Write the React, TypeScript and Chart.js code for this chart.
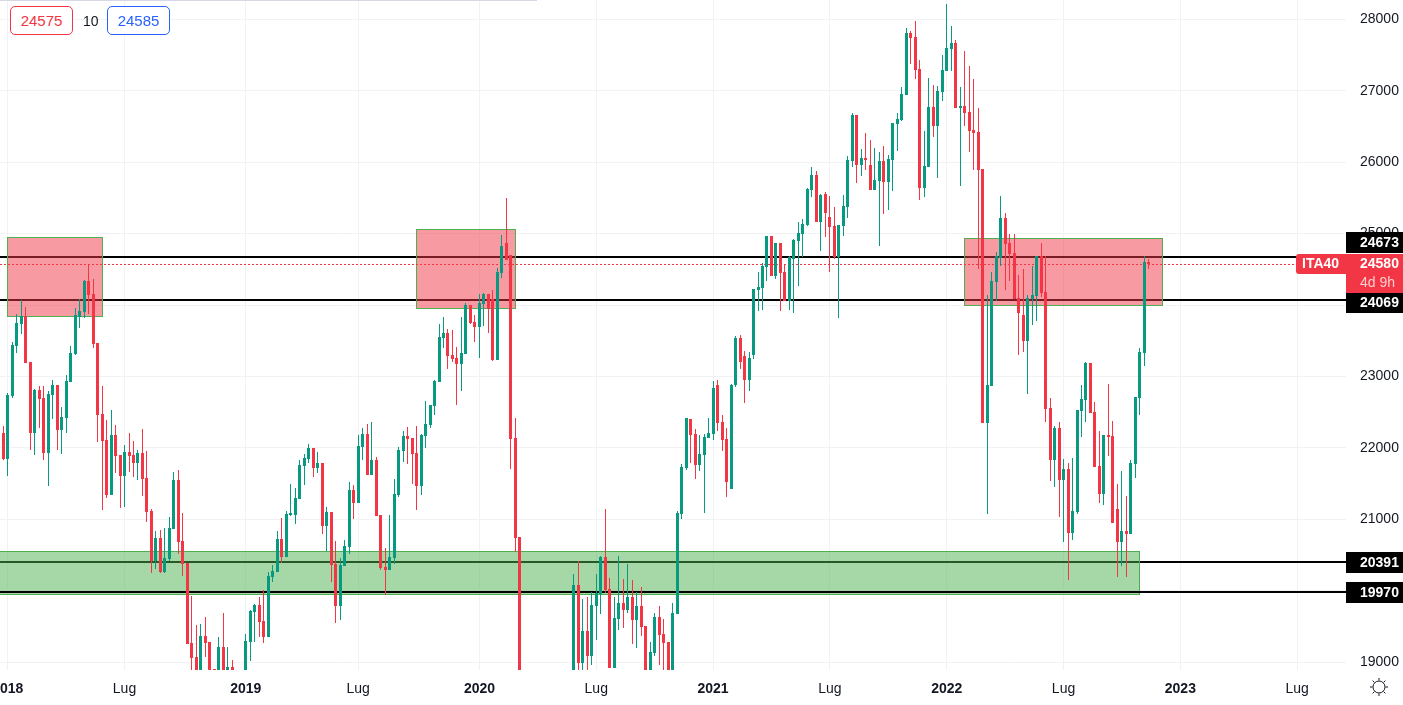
import React, { useEffect, useRef } from 'react';
import Chart from 'chart.js/auto';

// weekly candles, index 0 is the last week of Dec 2017
const opens = [
  22208,21844,22726,23426,23734,23841,23202,22208,22810,22698,
  21928,22740,22880,22250,22418,22922,23314,23832,23902,24336,
  24154,23468,22474,22110,21340,22180,21900,21606,21942,21900,
  21788,21928,21578,21116,20416,20738,20262,20444,20864,21550,
  20696,20388,19268,19072,18800,19366,19282,18900,18800,19212,
  18850,18932,18800,18600,18800,19282,19702,19800,19576,19352,
  20192,20262,20724,20472,21060,21060,21284,21746,21844,21998,
  21718,21788,20906,21102,20374,19786,20346,20612,21410,21228,
  22012,22194,21620,21830,21060,20332,20290,20458,21340,21956,
  22166,22138,21928,21466,22166,22320,22586,22922,23538,23608,
  23300,23258,23174,23314,24000,23762,23692,24014,24154,24084,
  23230,24448,24868,24700,22138,20752,18400,16000,15800,16600,
  16300,17200,17200,17000,17050,17400,17000,18800,20080,18988,
  19436,19086,19786,19954,20472,20024,18918,19604,19828,19730,
  19912,19590,19786,19506,18850,19128,19632,19394,19282,18850,
  19674,21074,21718,22404,22194,21760,21900,22138,22194,22880,
  22362,22124,21424,22880,23540,23280,22950,23300,24210,24238,
  24532,24966,24406,24868,24462,24056,24644,24896,24994,25120,
  25610,25820,25162,25554,25232,25106,24672,25106,25372,26016,
  26660,25960,26058,25960,25610,25736,26016,25722,26030,26534,
  26590,26940,27808,27752,27304,25638,25932,26772,26506,26982,
  27276,27584,27668,26758,26786,26702,26450,26422,25904,22348,
  22866,24322,24658,25218,24868,24728,24098,23860,23496,24084,
  24126,24686,24182,22558,21830,22278,21550,21704,20808,21102,
  22516,22670,23188,22502,21746,21354,22180,22166,21144,20682,
  20836,20794,21774,22698,23328,24602,
];
const closes = [
  21844,22740,23440,23748,23841,23188,22208,22810,22684,21928,
  22754,22880,22250,22432,22936,23328,23860,23916,24336,24140,
  23454,22460,22096,21340,22180,21886,21606,21942,21886,21788,
  21928,21564,21102,20416,20738,20262,20458,20878,21550,20682,
  20374,19254,19058,18800,19366,19268,18800,18800,19212,18800,
  18932,18800,18650,18800,19296,19716,19800,19562,19352,20206,
  20276,20724,20472,21074,21074,21298,21760,21858,21998,21718,
  21788,20906,21102,20360,19786,20360,20626,21410,21228,22026,
  22194,21620,21830,21046,20318,20290,20472,21354,21970,22166,
  22124,21914,21466,22180,22334,22600,22936,23552,23608,23286,
  23244,23174,23328,24000,23748,23692,24028,24154,23944,23230,
  24462,24826,24630,22124,20738,18400,16000,15800,16600,16300,
  17200,17150,17000,17050,17400,17000,18200,20080,18988,19436,
  19086,19800,19968,20472,20010,18918,19618,19828,19730,19912,
  19590,19786,19492,18850,19142,19632,19380,19268,18850,19688,
  21088,21732,22418,22180,21760,21914,22152,22208,22840,22350,
  22110,21522,22880,23540,23200,22950,23260,24224,24252,24546,
  24966,24406,24868,24448,24056,24672,24910,25008,25134,25624,
  25820,25162,25540,25288,25092,24672,25120,25386,26030,26660,
  25960,26058,26030,25610,25750,26016,25722,26044,26548,26604,
  26954,27808,27738,27290,25638,25946,26772,26506,26996,27290,
  27598,27668,26758,26786,26688,26436,26408,25890,22348,22880,
  24336,24686,25218,24854,24714,24084,23888,23496,24098,24140,
  24686,24168,22544,21830,22278,21550,21704,20808,21116,22530,
  22684,23188,22488,21732,21354,22180,22152,20948,20682,20836,
  20794,21788,22712,23342,24602,24574,
];
const highs = [
  22306,22768,23482,23874,24070,23972,23202,22824,22866,22866,
  22796,22950,22880,22572,23020,23426,23958,24084,24350,24560,
  24364,23468,22866,22390,22530,22320,21900,22040,22208,22096,
  21970,22264,21956,21144,20836,20850,20878,21032,21662,21690,
  21088,20388,19926,19520,19534,19632,19282,18900,19352,19688,
  19212,19030,18850,18850,19394,19730,19814,19912,20010,20262,
  20360,20836,21018,21116,21494,21438,21830,21914,22054,21998,
  21942,21788,21172,21102,20696,20458,20710,21522,21480,22180,
  22278,22334,22362,21867,21060,20598,21060,21564,22012,22236,
  22292,22138,22306,22194,22656,22600,22950,23734,23832,23664,
  23650,23412,23832,24028,24000,23860,24154,24168,24154,24210,
  24518,24980,25498,24700,22418,20752,18500,16100,16700,16700,
  17300,17400,17400,17200,17500,17500,18300,20234,20416,19884,
  19912,19982,20234,20486,21144,20178,19912,20486,20164,20374,
  20150,19982,20052,19506,19282,19688,19786,19604,19282,19828,
  21116,21774,22418,22404,22264,22180,22194,22418,22940,22950,
  22460,22278,22900,23560,23580,23350,23340,24230,24462,24590,
  24966,24966,24868,24868,24574,24686,24924,25162,25204,25638,
  25932,25876,25554,25582,25526,25372,25120,25540,26086,26688,
  26660,26184,26408,26310,26198,26142,26226,26100,26548,26688,
  27052,27878,27836,27976,27430,26436,27178,27080,27066,27500,
  28214,27906,27710,27052,27556,27346,27164,26758,25904,24140,
  24462,24742,25526,25288,24994,24994,24420,24504,24140,24546,
  24686,24868,24686,22698,22306,22362,21844,21788,21858,22530,
  22880,23202,23188,22642,22236,22180,22894,22376,21494,21676,
  21326,21830,22712,23398,24686,24644,
];
const lows = [
  21830,21610,22698,23328,23594,23188,21970,21900,22278,21830,
  21466,22404,21970,21914,22208,22922,23300,23678,23818,23874,
  23398,22082,21130,21298,21340,21643,21158,21172,21662,21587,
  21550,21326,20962,20248,20304,20248,20248,20416,20864,20514,
  20206,19254,18860,18700,18700,19072,18700,18700,18700,18700,
  18700,18700,18600,18500,18700,19016,19282,19352,19268,19352,
  20122,20262,20388,20472,21046,20934,21284,21480,21788,21592,
  21648,20794,20556,20122,19548,19590,20346,20514,21004,21228,
  21830,21620,21620,21046,20290,19940,20290,20374,21312,21802,
  21774,21494,21130,21340,21998,22278,22460,22922,23398,23104,
  23202,22600,22796,23314,23734,23482,23258,23706,23608,23216,
  23230,24378,24630,21704,20542,18300,15600,15500,15700,16000,
  16100,17000,16800,16800,16900,16900,16900,18700,18800,18850,
  18850,18960,19310,19674,19968,18918,18918,19450,19478,19688,
  19254,19198,19366,18850,18800,19086,18960,18850,18800,18800,
  19674,21004,21690,21788,21564,21676,21088,22138,22110,22236,
  21950,21312,21424,22850,23100,22630,22800,23250,23916,23930,
  24336,24406,24364,23916,24056,23930,23888,24266,24672,25106,
  25512,25162,24756,24952,24462,24650,23818,24966,25218,25932,
  25708,25806,25890,25610,25610,24826,25274,25330,25596,26156,
  26576,26940,27374,27164,25470,25512,25932,26352,25778,26856,
  27276,27276,26758,25666,26506,26142,25890,24504,22348,21074,
  22866,24056,24546,24210,24336,24084,23300,23342,22754,23720,
  23776,24112,22362,21536,21452,21032,20682,20150,20710,21074,
  22152,22362,22488,21732,21228,21200,21886,20948,20192,20346,
  20192,20794,21578,22460,23146,24504,
];

const priceTicks = [19000, 20000, 21000, 22000, 23000, 24000, 25000, 26000, 27000, 28000];
const timeTicks = [1, 27, 54, 79, 106, 132, 158, 184, 210, 236, 262, 288];
const timeLabels = ['2018', 'Lug', '2019', 'Lug', '2020', 'Lug', '2021', 'Lug', '2022', 'Lug', '2023', 'Lug'];

const levels = [24673, 24069, 20391];
const topLevel = 19970; // this one sits above the green zone
const lastPrice = 24580;
// x from, x to (candle index), price top, price bottom
const redZones = [
  [1, 22, 24948, 23842],
  [92, 114, 25060, 23954],
  [214, 258, 24934, 24004],
];
const greenZones = [[-1, 253, 20552, 19958]];

const UP = '#089981';
const DOWN = '#f23645';
const FONT = "'Liberation Sans', Arial, sans-serif";
const TEXT = '#131722';

const candleColors = closes.map((c, i) => (c >= opens[i] ? UP : DOWN));

const overlayPlugin = {
  id: 'overlay',
  beforeDatasetsDraw(chart: any) {
    const { ctx, chartArea, scales } = chart;
    const { x, y } = scales;

    // keep candles on whole pixels
    chart.data.datasets.forEach((_: any, d: number) => {
      chart.getDatasetMeta(d).data.forEach((el: any) => {
        el.x = Math.floor(el.x) + 0.5;
        el.y = Math.round(el.y);
        el.base = Math.round(el.base);
      });
    });

    const drawLevel = (v: number) => {
      const py = Math.round(y.getPixelForValue(v) - 0.4);
      ctx.strokeStyle = '#000';
      ctx.lineWidth = 2;
      ctx.beginPath();
      ctx.moveTo(chartArea.left, py);
      ctx.lineTo(chartArea.right, py);
      ctx.stroke();
    };

    const drawZone = (z: number[], fill: string) => {
      const x1 = Math.floor(x.getPixelForValue(z[0])) + 0.5;
      const x2 = Math.floor(x.getPixelForValue(z[1])) + 0.5;
      const y1 = Math.round(y.getPixelForValue(z[2])) + 0.5;
      const y2 = Math.round(y.getPixelForValue(z[3])) + 0.5;
      ctx.fillStyle = fill;
      ctx.fillRect(x1, y1, x2 - x1, y2 - y1);
      ctx.strokeStyle = '#4caf50';
      ctx.lineWidth = 1;
      ctx.strokeRect(x1, y1, x2 - x1, y2 - y1);
    };

    ctx.save();
    levels.forEach(drawLevel);
    redZones.forEach((z) => drawZone(z, 'rgba(242,54,69,0.5)'));
    greenZones.forEach((z) => drawZone(z, 'rgba(76,175,80,0.5)'));
    drawLevel(topLevel);

    const lastY = Math.round(y.getPixelForValue(lastPrice)) + 0.5;
    ctx.strokeStyle = DOWN;
    ctx.lineWidth = 1;
    ctx.setLineDash([2, 2]);
    ctx.beginPath();
    ctx.moveTo(chartArea.left, lastY);
    ctx.lineTo(1296, lastY);
    ctx.stroke();
    ctx.restore();
  },
  afterDraw(chart: any) {
    const { ctx, chartArea } = chart;
    const left = chartArea.right;
    const width = chart.width - left;
    ctx.save();
    ctx.textBaseline = 'middle';
    ctx.textAlign = 'left';

    // price scale tags, moved apart the way the platform does it
    const tags = [
      { text: String(levels[0]), top: 232, bottom: 253 },
      { text: String(levels[1]), top: 293, bottom: 313 },
      { text: String(levels[2]), top: 552, bottom: 573 },
      { text: String(topLevel), top: 582, bottom: 603 },
    ];
    ctx.font = `bold 14px ${FONT}`;
    tags.forEach((t) => {
      ctx.fillStyle = '#000';
      ctx.fillRect(left, t.top, width, t.bottom - t.top);
      ctx.fillStyle = '#fff';
      ctx.fillText(t.text, left + 14, (t.top + t.bottom) / 2 + 0.5);
    });

    ctx.fillStyle = DOWN;
    ctx.beginPath();
    ctx.roundRect(1296, 254, 60, 20, [3, 0, 0, 3]);
    ctx.fill();
    ctx.fillRect(left, 254, width, 39);
    ctx.fillStyle = '#fff';
    ctx.fillText('ITA40', 1302, 264.5);
    ctx.fillText(String(lastPrice), left + 14, 264.5);
    ctx.font = `14px ${FONT}`;
    ctx.fillStyle = 'rgba(255,255,255,0.75)';
    ctx.fillText('4d 9h', left + 14, 283.5);
    ctx.restore();
  },
};

const boxStyle = (color: string, left: number): React.CSSProperties => ({
  position: 'absolute',
  left,
  top: 6,
  width: 61,
  height: 27,
  lineHeight: '27px',
  border: `1px solid ${color}`,
  borderRadius: 5,
  color,
  background: '#fff',
  textAlign: 'center',
  fontFamily: FONT,
  fontSize: 15,
});

const App = () => {
  const chartRef = useRef<HTMLCanvasElement>(null);
  const chartInstance = useRef<Chart | null>(null);

  useEffect(() => {
    if (!chartRef.current) return;

    chartInstance.current = new Chart(chartRef.current, {
      type: 'bar',
      data: {
        datasets: [
          {
            data: highs.map((h, i) => ({ x: i, y: [lows[i], h] })),
            backgroundColor: candleColors,
            barThickness: 1,
            inflateAmount: 0,
            grouped: false,
          },
          {
            data: opens.map((o, i) => ({ x: i, y: [o, closes[i]] })),
            backgroundColor: candleColors,
            barThickness: 3,
            inflateAmount: 0,
            minBarLength: 2,
            grouped: false,
          },
        ] as any,
      },
      options: {
        responsive: false,
        devicePixelRatio: 1,
        animation: false,
        events: [],
        layout: { padding: 0 },
        plugins: { legend: { display: false }, tooltip: { enabled: false } },
        scales: {
          x: {
            type: 'linear',
            min: -0.712,
            max: 298.87,
            offset: false,
            border: { display: false },
            grid: { color: '#f1f2f4', drawTicks: false, offset: false },
            afterBuildTicks: (scale: any) => {
              scale.ticks = timeTicks.map((value) => ({ value }));
            },
            afterFit: (scale: any) => {
              scale.height = 35;
              scale.paddingLeft = 0;
              scale.paddingRight = 0;
            },
            ticks: {
              autoSkip: false,
              maxRotation: 0,
              padding: 11,
              color: TEXT,
              font: (c: any) => ({
                family: FONT,
                size: 14,
                weight: c.index % 2 === 0 ? 'bold' : 'normal',
              }),
              callback: (value: any) => timeLabels[timeTicks.indexOf(value)],
            },
          },
          y: {
            position: 'right',
            min: 18890,
            max: 28270,
            border: { display: false },
            grid: { color: '#f1f2f4', drawTicks: false },
            afterBuildTicks: (scale: any) => {
              scale.ticks = priceTicks.map((value) => ({ value }));
            },
            afterFit: (scale: any) => {
              scale.width = 57;
              scale.paddingTop = 0;
              scale.paddingBottom = 0;
            },
            ticks: {
              padding: 14,
              color: TEXT,
              font: { family: FONT, size: 14 },
              callback: (value: any) => String(value),
            },
          },
        },
      },
      plugins: [overlayPlugin],
    } as any);

    return () => {
      if (chartInstance.current) {
        chartInstance.current.destroy();
      }
    };
  }, []);

  return (
    <div style={{ position: 'fixed', left: 0, top: 0, width: 1403, height: 705, background: '#fff', overflow: 'hidden' }}>
      <canvas ref={chartRef} width={1403} height={705} style={{ display: 'block' }}></canvas>
      <div style={{ position: 'absolute', left: 0, top: 0, width: 537, height: 1, background: '#d6d8e8' }}></div>
      <div style={boxStyle(DOWN, 10)}>24575</div>
      <div style={{ position: 'absolute', left: 83, top: 13, color: TEXT, fontFamily: FONT, fontSize: 14 }}>10</div>
      <div style={boxStyle('#2962ff', 107)}>24585</div>
      <svg style={{ position: 'absolute', left: 1369, top: 677 }} width="20" height="20" viewBox="0 0 20 20" fill="none" stroke={TEXT} strokeWidth="1">
        <circle cx="10" cy="10" r="6" />
        <path d="M10 1v2.500M10 16.500V19M1 10h2.500M16.500 10H19M3.600 3.600l1.800 1.800M14.600 14.600l1.800 1.800M3.600 16.400l1.800-1.800M14.600 5.400l1.800-1.800" />
      </svg>
    </div>
  );
};

export default App;
